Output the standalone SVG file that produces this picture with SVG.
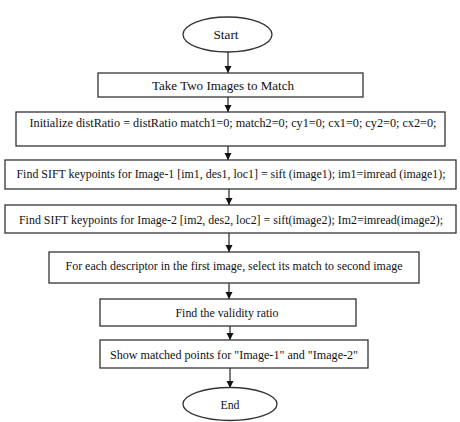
<svg xmlns="http://www.w3.org/2000/svg" width="460" height="422" viewBox="0 0 460 422">
<style>
.box{fill:#fff;stroke:#333;stroke-width:1.3}
.t{font-family:'Liberation Serif','Times New Roman',serif;font-size:12.5px;fill:#111;text-anchor:middle}
.s{font-size:12px}
.c{stroke:#222;stroke-width:1.2;fill:none}
</style>
<defs>
<marker id="ah" markerWidth="8" markerHeight="8" refX="7" refY="4" orient="auto" markerUnits="userSpaceOnUse">
<path d="M0,0.5 L7,4 L0,7.5 z" fill="#111"/>
</marker>
</defs>
<rect width="460" height="422" fill="#fff"/>
<g id="connectors">
<line class="c" x1="228" y1="52" x2="228" y2="73" marker-end="url(#ah)"/>
<line class="c" x1="228" y1="97" x2="228" y2="112" marker-end="url(#ah)"/>
<line class="c" x1="228" y1="146" x2="228" y2="160" marker-end="url(#ah)"/>
<line class="c" x1="229" y1="189" x2="229" y2="205" marker-end="url(#ah)"/>
<line class="c" x1="229" y1="233" x2="229" y2="252" marker-end="url(#ah)"/>
<line class="c" x1="229" y1="283" x2="229" y2="299" marker-end="url(#ah)"/>
<line class="c" x1="230" y1="326" x2="230" y2="340" marker-end="url(#ah)"/>
<line class="c" x1="230" y1="368" x2="230" y2="388" marker-end="url(#ah)"/>
</g>
<g id="start">
<ellipse class="box" cx="227.5" cy="34.5" rx="44.5" ry="17.5"/>
<text class="t" x="226" y="39" textLength="25" lengthAdjust="spacingAndGlyphs">Start</text>
</g>
<g id="take">
<rect class="box" x="98" y="73" width="265" height="24"/>
<text class="t" x="223" y="90" textLength="142" lengthAdjust="spacingAndGlyphs">Take Two Images to Match</text>
</g>
<g id="init">
<rect class="box" x="16" y="112" width="429" height="34"/>
<text class="t" x="233" y="127" textLength="407" lengthAdjust="spacingAndGlyphs">Initialize distRatio = distRatio match1=0; match2=0; cy1=0; cx1=0; cy2=0; cx2=0;</text>
</g>
<g id="sift1">
<rect class="box" x="5" y="160" width="451" height="29"/>
<text class="t s" x="231" y="178" textLength="429" lengthAdjust="spacingAndGlyphs">Find SIFT keypoints for Image-1 [im1, des1, loc1] = sift (image1); im1=imread (image1);</text>
</g>
<g id="sift2">
<rect class="box" x="5" y="205" width="451" height="28"/>
<text class="t s" x="231" y="224" textLength="424" lengthAdjust="spacingAndGlyphs">Find SIFT keypoints for Image-2 [im2, des2, loc2] = sift(image2); Im2=imread(image2);</text>
</g>
<g id="foreach">
<rect class="box" x="49" y="252" width="370" height="31"/>
<text class="t" x="234" y="270" textLength="337" lengthAdjust="spacingAndGlyphs">For each descriptor in the first image, select its match to second image</text>
</g>
<g id="validity">
<rect class="box" x="100" y="299" width="256" height="27"/>
<text class="t" x="227" y="317" textLength="103" lengthAdjust="spacingAndGlyphs">Find the validity ratio</text>
</g>
<g id="show">
<rect class="box" x="100" y="340" width="268" height="28"/>
<text class="t" x="234" y="359" textLength="248" lengthAdjust="spacingAndGlyphs">Show matched points for "Image-1" and "Image-2"</text>
</g>
<g id="end">
<ellipse class="box" cx="230" cy="404" rx="47" ry="16.5"/>
<text class="t" x="230" y="409" textLength="19" lengthAdjust="spacingAndGlyphs">End</text>
</g>
</svg>
